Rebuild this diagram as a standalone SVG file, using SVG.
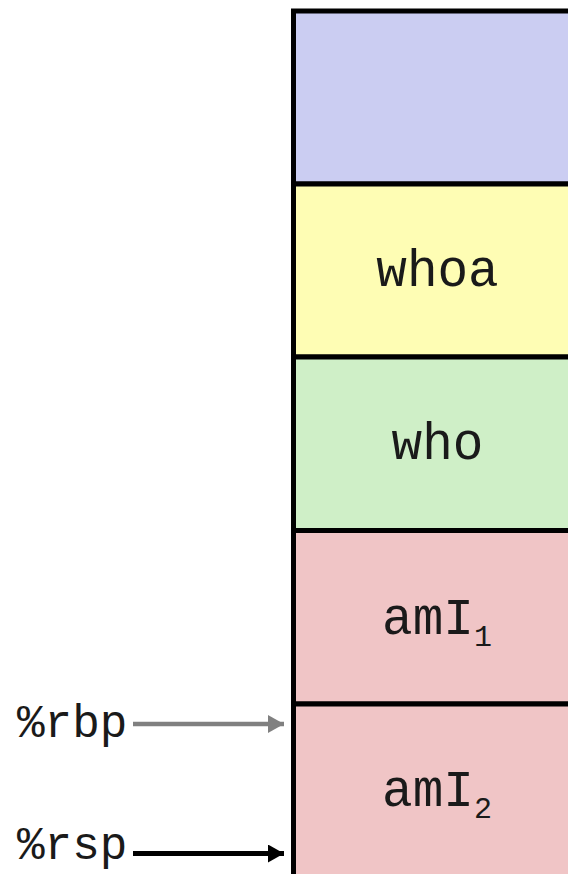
<svg xmlns="http://www.w3.org/2000/svg" width="568" height="874" viewBox="0 0 568 874">
<style>
.box{stroke:#000;stroke-width:5}
.lbl{font-family:"Liberation Mono","Courier New",monospace;font-size:51px;fill:#1a1a1a;text-anchor:middle}
.reg{font-family:"Liberation Mono","Courier New",monospace;font-size:46px;fill:#1a1a1a}
.sub{font-size:30px}
</style>
<defs>
<marker id="ag" markerUnits="userSpaceOnUse" markerWidth="16" markerHeight="18" refX="16" refY="9" orient="auto"><path d="M0,0 L16,9 L0,18 Z" fill="#808080"/></marker>
<marker id="ak" markerUnits="userSpaceOnUse" markerWidth="16" markerHeight="18" refX="16" refY="9" orient="auto"><path d="M0,0 L16,9 L0,18 Z" fill="#000"/></marker>
</defs>
<rect width="568" height="874" fill="#fff"/>
<g id="frame0"><rect class="box" x="293.5" y="11" width="290" height="173" fill="#cbcdf2"/></g>
<g id="whoa"><rect class="box" x="293.5" y="184" width="290" height="173" fill="#fefdb4"/><text class="lbl" x="437.5" y="286">whoa</text></g>
<g id="who"><rect class="box" x="293.5" y="357" width="290" height="173.5" fill="#cfefc7"/><text class="lbl" x="437.5" y="459">who</text></g>
<g id="amI1"><rect class="box" x="293.5" y="530.5" width="290" height="173.5" fill="#f0c5c6"/><text class="lbl" x="437" y="634">amI<tspan class="sub" dy="12">1</tspan></text></g>
<g id="amI2"><rect class="box" x="293.5" y="704" width="290" height="180" fill="#f0c5c6"/><text class="lbl" x="437" y="806">amI<tspan class="sub" dy="12">2</tspan></text></g>
<g id="rbp"><text class="reg" x="17" y="737">%rbp</text></g>
<g id="rsp"><text class="reg" x="17" y="859">%rsp</text></g>
<g id="connectors">
<line x1="133" y1="724" x2="284" y2="724" stroke="#808080" stroke-width="4.5" marker-end="url(#ag)"/>
<line x1="133" y1="853.5" x2="284" y2="853.5" stroke="#000" stroke-width="5" marker-end="url(#ak)"/>
</g>
</svg>
